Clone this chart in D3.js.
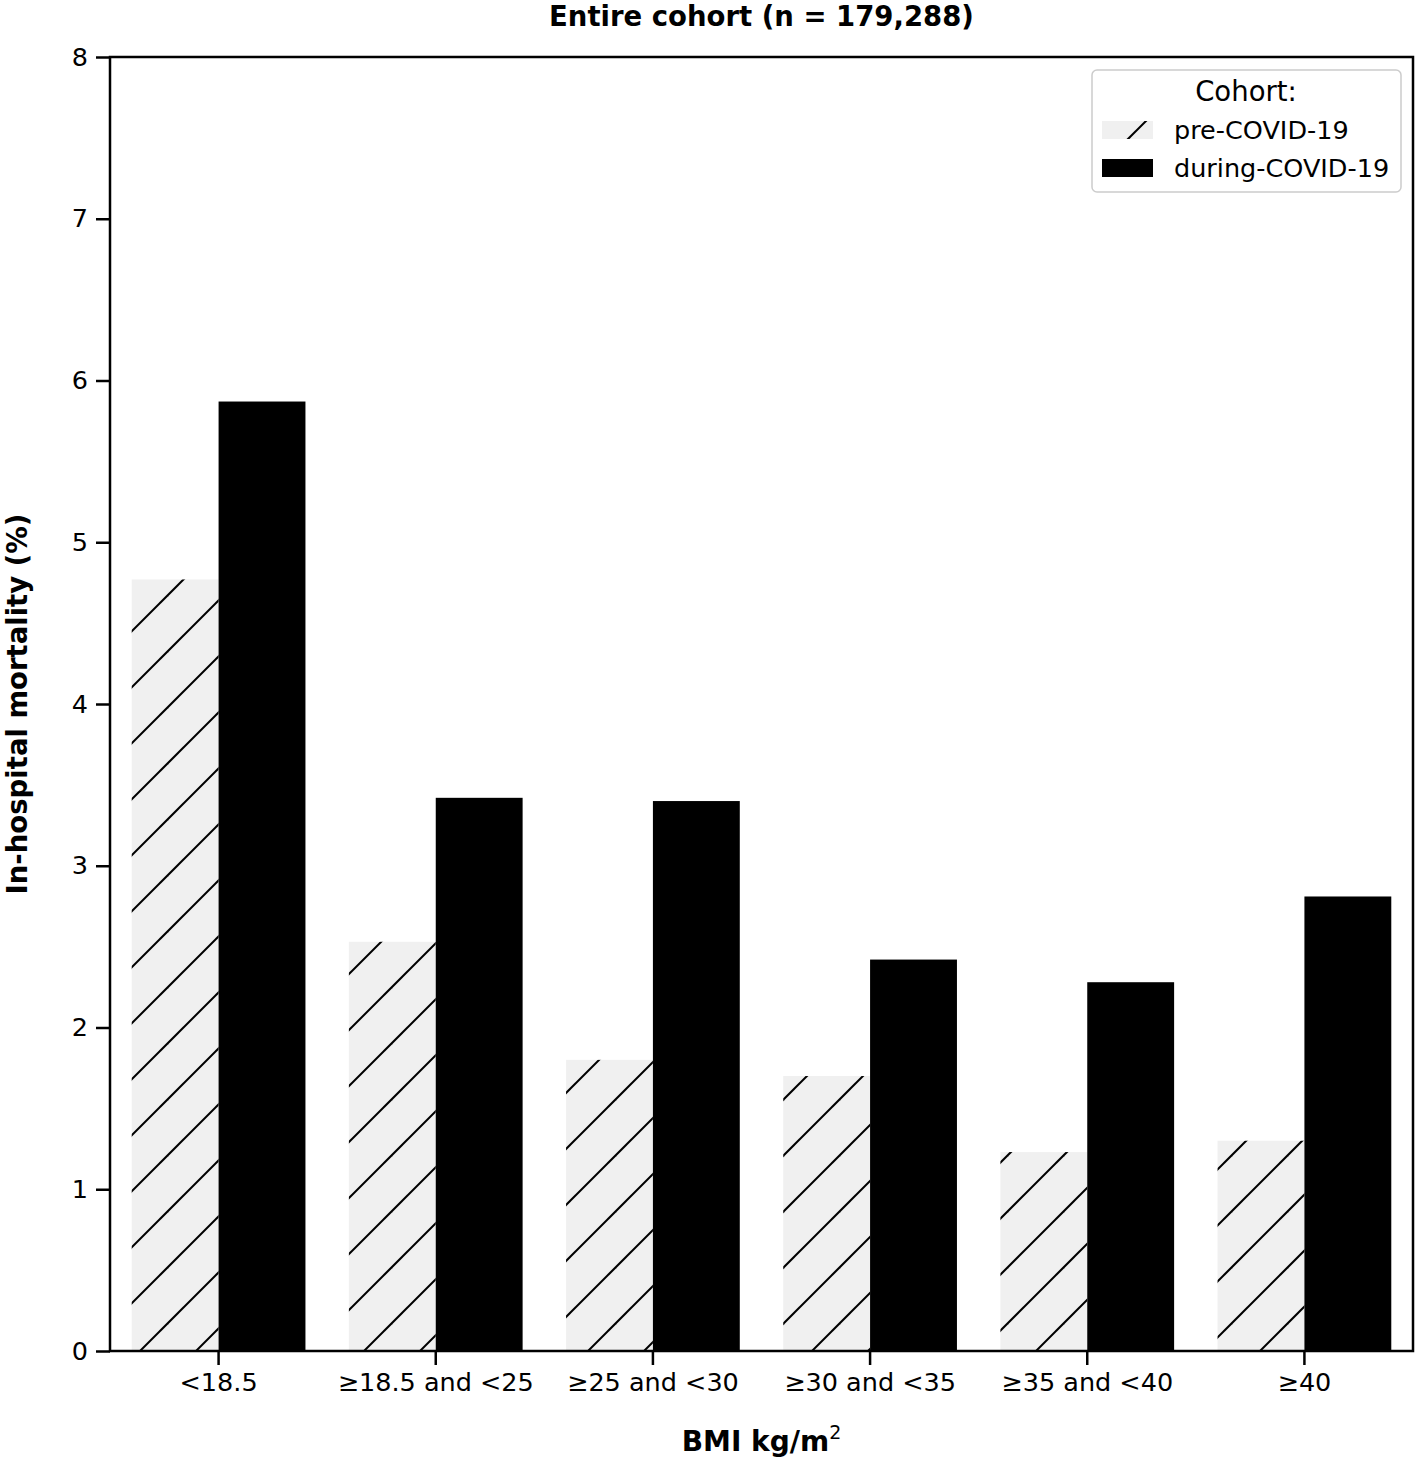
<!DOCTYPE html>
<html>
<head>
<meta charset="utf-8">
<script src="https://cdn.jsdelivr.net/npm/d3@7"></script>
<style>
  body { margin: 0; background: #fff; }
  text { font-family: "DejaVu Sans", sans-serif; }
</style>
</head>
<body>
<div id="chart"></div>
<script>
// data
const categories = ["<18.5", "\u226518.5 and <25", "\u226525 and <30", "\u226530 and <35", "\u226535 and <40", "\u226540"];
const preCovid = [4.77, 2.53, 1.80, 1.70, 1.23, 1.30];
const duringCovid = [5.87, 3.42, 3.40, 2.42, 2.28, 2.81];
const yTicks = [0, 1, 2, 3, 4, 5, 6, 7, 8];

const width = 1418, height = 1460;
const plot = { left: 110, right: 1413, top: 57, bottom: 1351 };

const svg = d3.select("#chart").append("svg")
    .attr("width", width)
    .attr("height", height);

// hatch pattern for the pre-COVID bars
const defs = svg.append("defs");
const pat = defs.append("pattern")
    .attr("id", "hatch")
    .attr("patternUnits", "userSpaceOnUse")
    .attr("width", 56)
    .attr("height", 56);
pat.append("rect").attr("width", 56).attr("height", 56).attr("fill", "#f0f0f0");
[[-5, 40, 40, -5], [30, 61, 61, 30]].forEach(l => {
    pat.append("line")
        .attr("x1", l[0]).attr("y1", l[1]).attr("x2", l[2]).attr("y2", l[3])
        .attr("stroke", "#000").attr("stroke-width", 2);
});

const x = d3.scaleBand()
    .domain(categories)
    .range([plot.left, plot.right])
    .padding(0);

const y = d3.scaleLinear()
    .domain([0, 8])
    .range([plot.bottom, plot.top]);

const barW = x.bandwidth() * 0.4;
const center = d => x(d) + x.bandwidth() / 2;

// bars
svg.append("g").selectAll("rect")
    .data(categories).enter()
    .append("rect")
    .attr("x", d => center(d) - barW)
    .attr("y", (d, i) => y(preCovid[i]))
    .attr("width", barW)
    .attr("height", (d, i) => y(0) - y(preCovid[i]))
    .attr("fill", "url(#hatch)");

svg.append("g").selectAll("rect")
    .data(categories).enter()
    .append("rect")
    .attr("x", d => center(d))
    .attr("y", (d, i) => y(duringCovid[i]))
    .attr("width", barW)
    .attr("height", (d, i) => y(0) - y(duringCovid[i]))
    .attr("fill", "#000");

// axes
const yAxis = svg.append("g")
    .attr("transform", "translate(" + plot.left + ",0)")
    .call(d3.axisLeft(y).tickValues(yTicks).tickSize(14).tickPadding(8).tickFormat(d3.format("d")));

const xAxis = svg.append("g")
    .attr("transform", "translate(0," + plot.bottom + ")")
    .call(d3.axisBottom(x).tickSize(14).tickPadding(8));

[yAxis, xAxis].forEach(a => {
    a.select(".domain").remove();
    a.selectAll("line").attr("stroke", "#000").attr("stroke-width", 2.5);
    a.selectAll("text").attr("font-size", 25.5).attr("fill", "#000")
        .style("font-family", "DejaVu Sans, sans-serif");
});

// frame
svg.append("rect")
    .attr("x", plot.left).attr("y", plot.top)
    .attr("width", plot.right - plot.left)
    .attr("height", plot.bottom - plot.top)
    .attr("fill", "none")
    .attr("stroke", "#000")
    .attr("stroke-width", 2.5);

// title and axis labels
svg.append("text")
    .attr("x", (plot.left + plot.right) / 2)
    .attr("y", 26)
    .attr("text-anchor", "middle")
    .attr("font-size", 27.5)
    .attr("font-weight", "bold")
    .text("Entire cohort (n = 179,288)");

svg.append("text")
    .attr("transform", "translate(27," + (plot.top + plot.bottom) / 2 + ") rotate(-90)")
    .attr("text-anchor", "middle")
    .attr("font-size", 27.5)
    .attr("font-weight", "bold")
    .text("In-hospital mortality (%)");

const xl = svg.append("text")
    .attr("x", (plot.left + plot.right) / 2)
    .attr("y", 1451)
    .attr("text-anchor", "middle")
    .attr("font-size", 28)
    .attr("font-weight", "bold");
xl.append("tspan").text("BMI kg/m");
xl.append("tspan").attr("dy", -12).attr("font-size", 19).attr("font-weight", "normal").text("2");

// legend
const lg = svg.append("g");
lg.append("rect")
    .attr("x", 1092).attr("y", 70)
    .attr("width", 309).attr("height", 122)
    .attr("rx", 5)
    .attr("fill", "#fff")
    .attr("stroke", "#cccccc")
    .attr("stroke-width", 1.5);
lg.append("text")
    .attr("x", 1246).attr("y", 101)
    .attr("text-anchor", "middle")
    .attr("font-size", 27.5)
    .text("Cohort:");
const legendItems = [
    { label: "pre-COVID-19", fill: "url(#hatch)", y: 121 },
    { label: "during-COVID-19", fill: "#000", y: 159 }
];
legendItems.forEach(it => {
    lg.append("rect")
        .attr("x", 1102).attr("y", it.y)
        .attr("width", 51).attr("height", 18)
        .attr("fill", it.fill);
    lg.append("text")
        .attr("x", 1174).attr("y", it.y + 18)
        .attr("font-size", 25.5)
        .text(it.label);
});
</script>
</body>
</html>
